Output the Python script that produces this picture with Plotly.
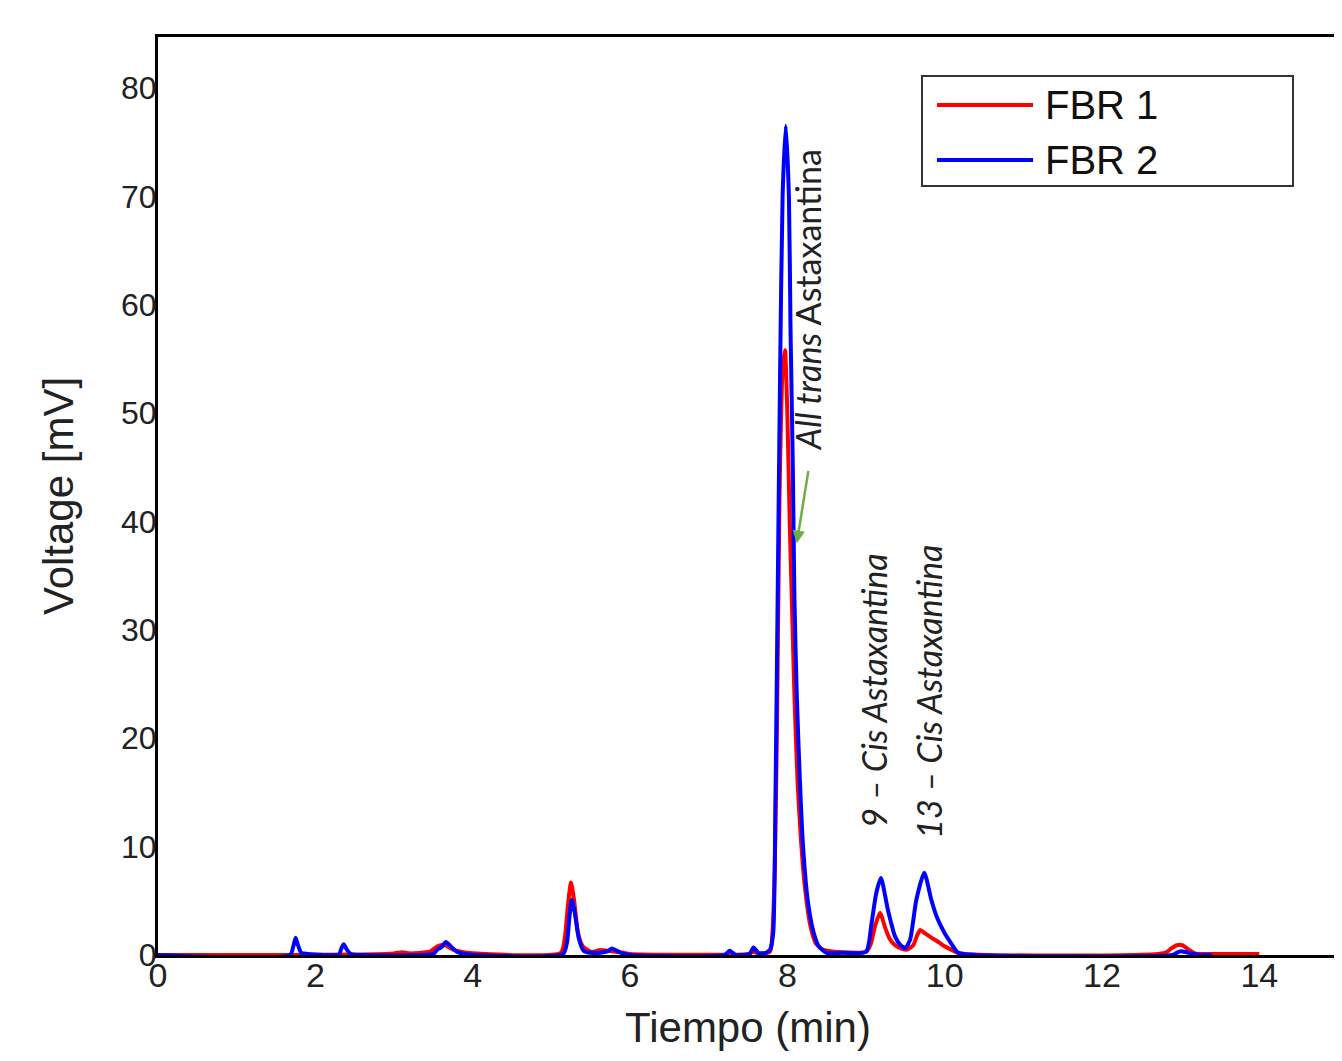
import plotly.graph_objects as go

# ---- data ----
series_names = ["FBR 1", "FBR 2"]
series_colors = ["#ff0000", "#0000ff"]

fbr1_t = [0, 1.7, 2.5, 3.0, 3.1, 3.2, 3.45, 3.55, 3.65, 3.75, 3.85, 4.0, 5.12, 5.17, 5.21, 5.25, 5.29, 5.34,
          5.4, 5.5, 5.62, 5.72, 5.82, 5.92, 6.0, 7.5, 7.57, 7.64, 7.78, 7.81, 7.84, 7.87, 7.9, 7.94, 7.97,
          8.0, 8.03, 8.06, 8.09, 8.13, 8.17, 8.22, 8.29, 8.36, 8.45, 8.6, 9.0, 9.06, 9.12, 9.18, 9.24,
          9.3, 9.37, 9.45, 9.52, 9.6, 9.65, 9.69, 9.75, 9.83, 9.92, 10.0, 10.08, 10.2, 12.8, 12.88,
          12.95, 13.02, 13.1, 13.18, 13.3, 14.0]
fbr1_v = [0, 0, 0.05, 0.15, 0.25, 0.15, 0.3, 0.8, 0.9, 0.5, 0.3, 0.15, 0.2, 1.5, 4.5, 6.7, 5.0, 2.0,
          0.8, 0.3, 0.45, 0.4, 0.3, 0.2, 0.1, 0.1, 0.3, 0.1, 0.3, 2, 8, 22, 42, 54, 55.8,
          50, 40, 32, 24, 16, 11, 6.5, 2.8, 1.1, 0.5, 0.3, 0.3, 1.0, 2.8, 3.9, 2.6,
          1.5, 0.9, 0.6, 0.5, 0.9, 1.8, 2.3, 2.0, 1.6, 1.2, 0.8, 0.5, 0.15, 0.2, 0.6,
          0.9, 0.9, 0.5, 0.15, 0.1, 0.1]

fbr2_t = [0, 1.68, 1.72, 1.75, 1.78, 1.82, 1.9, 2.3, 2.33, 2.36, 2.4, 2.45, 2.6, 3.5, 3.55, 3.6, 3.66,
          3.72, 3.8, 3.9, 5.15, 5.2, 5.23, 5.26, 5.3, 5.35, 5.41, 5.5, 5.62, 5.72, 5.77, 5.83, 5.92, 6.0,
          7.2, 7.27, 7.34, 7.52, 7.57, 7.63, 7.72, 7.78, 7.82, 7.85, 7.88, 7.91, 7.94, 7.98, 8.02, 8.04,
          8.07, 8.09, 8.12, 8.16, 8.2, 8.26, 8.33, 8.4, 8.5, 8.7, 9.0, 9.07, 9.13, 9.19, 9.28, 9.37,
          9.44, 9.5, 9.56, 9.64, 9.74, 9.83, 9.9, 10.0, 10.08, 10.17, 10.4, 12.9, 12.95, 13.0, 13.1,
          13.25, 13.4]
fbr2_v = [0, 0, 0.8, 1.6, 0.9, 0.2, 0.1, 0.05, 0.6, 1.0, 0.5, 0.1, 0.0, 0.1, 0.5, 0.7, 1.2,
          0.8, 0.3, 0.1, 0.1, 1.2, 3.5, 5.1, 3.8, 1.5, 0.4, 0.2, 0.2, 0.35, 0.6, 0.4, 0.1, 0.0,
          0.0, 0.4, 0.0, 0.1, 0.7, 0.2, 0.2, 0.5, 2, 15, 35, 55, 70, 76.5, 70, 58,
          45, 33, 24, 16, 10, 5, 2.2, 0.8, 0.2, 0.2, 0.3, 2.9, 5.7, 7.1, 4.1, 1.7,
          0.9, 0.65, 1.4, 5.1, 7.6, 5.1, 3.5, 2.0, 1.1, 0.2, 0.0, 0.0, 0.2, 0.35, 0.2,
          0.0, 0.0]

x_ticks = [0, 2, 4, 6, 8, 10, 12, 14]
y_ticks = [0, 10, 20, 30, 40, 50, 60, 70, 80]

fig = go.Figure()
for name, color, t, v in [(series_names[0], series_colors[0], fbr1_t, fbr1_v),
                          (series_names[1], series_colors[1], fbr2_t, fbr2_v)]:
    fig.add_trace(go.Scatter(x=t, y=v, mode="lines", name=name,
                             line=dict(color=color, width=4, shape="spline", smoothing=0.6),
                             showlegend=False))

# peak labels
lab_font = dict(family="Lato", size=34, color="#222222")
fig.add_annotation(x=8.26, y=60.4, text="<i>All trans</i> Astaxantina", textangle=-90,
                   showarrow=False, font=lab_font)
fig.add_annotation(x=9.09, y=24.4, text="<i>9 \u2013 Cis Astaxantina</i>", textangle=-90,
                   showarrow=False, font=lab_font)
fig.add_annotation(x=9.79, y=24.3, text="<i>13 \u2013 Cis Astaxantina</i>", textangle=-90,
                   showarrow=False, font=lab_font)
# green arrow
fig.add_annotation(x=8.12, y=38.0, ax=8.27, ay=44.8, axref="x", ayref="y", xref="x", yref="y",
                   text="", showarrow=True, arrowhead=2, arrowsize=1, arrowwidth=2.5,
                   arrowcolor="#70ad47")

# custom legend (positions relative to the plot area)
fig.add_shape(type="rect", xref="paper", yref="paper", x0=(922-158)/1180, x1=(1293-158)/1180,
              y0=(955-186)/918, y1=(955-76)/918, line=dict(color="#333333", width=2),
              fillcolor="white")
for i, (name, color) in enumerate(zip(series_names, series_colors)):
    ypix = 105 + 55 * i
    yp = (955 - ypix) / 918
    fig.add_shape(type="line", xref="paper", yref="paper", x0=(937-158)/1180, x1=(1033-158)/1180,
                  y0=yp, y1=yp, line=dict(color=color, width=4))
    fig.add_annotation(xref="paper", yref="paper", x=(1043-158)/1180, y=yp, text=name,
                       showarrow=False, xanchor="left", yanchor="middle",
                       font=dict(family="Liberation Sans, Arial", size=40, color="#111111"))

# page body has an 8px margin, so the figure is offset by 8px
fig.update_layout(
    width=1334, height=1053,
    margin=dict(l=150, r=4, t=29, b=106, autoexpand=False),
    paper_bgcolor="white", plot_bgcolor="white",
    font=dict(family="Liberation Sans, Arial", color="#222222"),
)
fig.update_xaxes(range=[0, 15], tickvals=x_ticks, ticktext=[str(v) for v in x_ticks],
                 showgrid=False, zeroline=False, showline=True, linecolor="black", linewidth=3,
                 mirror=True, ticks="", tickfont=dict(size=34), ticklabelstandoff=-12, automargin=False,
                 title=dict(text="Tiempo (min)", font=dict(size=42), standoff=20))
fig.update_yaxes(range=[0, 84.7], tickvals=y_ticks, ticktext=[str(v) for v in y_ticks],
                 showgrid=False, zeroline=False, showline=True, linecolor="black", linewidth=3,
                 mirror=True, ticks="", tickfont=dict(size=32), ticklabelstandoff=-8, automargin=False,
                 title=dict(text="Voltage [mV]", font=dict(size=42), standoff=35))

fig.write_html("out.html")
